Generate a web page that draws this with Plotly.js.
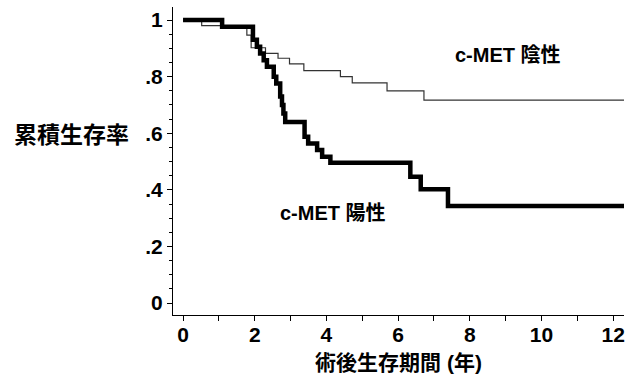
<!DOCTYPE html>
<html>
<head>
<meta charset="utf-8">
<script src="https://cdn.plot.ly/plotly-3.0.1.min.js"></script>
<style>html,body{margin:0;padding:0;background:#fff;}#chart{width:634px;height:385px;}</style>
</head>
<body>
<div id="chart"></div>
<script>
// c-MET 陽性 (thick)
const posYears    = [0, 1.09, 1.95, 2.06, 2.15, 2.25, 2.34, 2.53, 2.60, 2.71, 2.76, 2.80, 2.85, 3.39, 3.49, 3.74, 3.88, 4.11, 6.34, 6.63, 7.39, 12.3];
const posSurvival = [1, 0.976, 0.93, 0.906, 0.882, 0.858, 0.835, 0.80, 0.776, 0.73, 0.70, 0.67, 0.64, 0.588, 0.564, 0.541, 0.517, 0.496, 0.446, 0.402, 0.343, 0.343];
// c-MET 陰性 (thin)
const negYears    = [0, 0.52, 1.06, 1.78, 1.90, 2.30, 2.65, 2.97, 3.37, 4.39, 4.72, 5.69, 6.72, 12.3];
const negSurvival = [1, 0.98, 0.971, 0.947, 0.902, 0.882, 0.865, 0.845, 0.821, 0.80, 0.778, 0.75, 0.717, 0.717];

const yTickVals = [0, 0.2, 0.4, 0.6, 0.8, 1];
const yTickText = ['0', '.2', '.4', '.6', '.8', '1'];
const xTickVals = [0, 2, 4, 6, 8, 10, 12];
const xTickText = ['0', '2', '4', '6', '8', '10', '12'];

const labelNeg = 'c-MET 陰性';
const labelPos = 'c-MET 陽性';
const yTitle = '累積生存率';
const xTitle = '術後生存期間 (年)';

const b = s => '<b>' + s + '</b>';
const tickFont = {family: 'Liberation Sans, Arial, sans-serif', size: 21, color: '#000'};
const cjkFont = {family: 'Liberation Sans, Noto Sans CJK JP, sans-serif', size: 20, color: '#000'};

const traces = [
  {x: negYears, y: negSurvival, type: 'scatter', mode: 'lines', line: {shape: 'hv', width: 1.2, color: '#333'}, hoverinfo: 'skip'},
  {x: posYears, y: posSurvival, type: 'scatter', mode: 'lines', line: {shape: 'hv', width: 4.5, color: '#000'}, hoverinfo: 'skip'}
];

const layout = {
  width: 634, height: 385,
  margin: {l: 173, r: 10, t: 7, b: 70},
  paper_bgcolor: '#fff', plot_bgcolor: '#fff',
  showlegend: false,
  xaxis: {
    range: [-0.28, 12.3], showgrid: false, zeroline: false,
    showline: true, linecolor: '#000', linewidth: 1,
    ticks: 'outside', ticklen: 5, tickcolor: '#000',
    ticklabelstandoff: -4,
    tickvals: xTickVals, ticktext: xTickText.map(b), tickfont: tickFont,
    minor: {dtick: 1, tick0: 0, ticks: 'outside', ticklen: 5, tickcolor: '#000'},
    title: {text: b(xTitle), font: {family: 'Liberation Sans, Noto Sans CJK JP, sans-serif', size: 21, color: '#000'}, standoff: 10}
  },
  yaxis: {
    range: [-0.042, 1.046], showgrid: false, zeroline: false,
    showline: true, linecolor: '#000', linewidth: 1,
    ticks: 'outside', ticklen: 5, tickcolor: '#000',
    tickvals: yTickVals, ticktext: yTickText.map(b), tickfont: tickFont,
    minor: {dtick: 0.05, tick0: 0, ticks: 'outside', ticklen: 3, tickcolor: '#000'}
  },
  annotations: [
    {x: 9.06, y: 0.876, xref: 'x', yref: 'y', text: b(labelNeg), showarrow: false, font: cjkFont, xanchor: 'center', yanchor: 'middle'},
    {x: 4.17, y: 0.32, xref: 'x', yref: 'y', text: b(labelPos), showarrow: false, font: cjkFont, xanchor: 'center', yanchor: 'middle'},
    {x: -0.226, y: 0.601, xref: 'paper', yref: 'y', text: b(yTitle), showarrow: false, font: {family: 'Noto Sans CJK JP, sans-serif', size: 23, color: '#000'}, xanchor: 'center', yanchor: 'middle'}
  ]
};

Plotly.newPlot('chart', traces, layout, {staticPlot: true, displayModeBar: false});
</script>
</body>
</html>
